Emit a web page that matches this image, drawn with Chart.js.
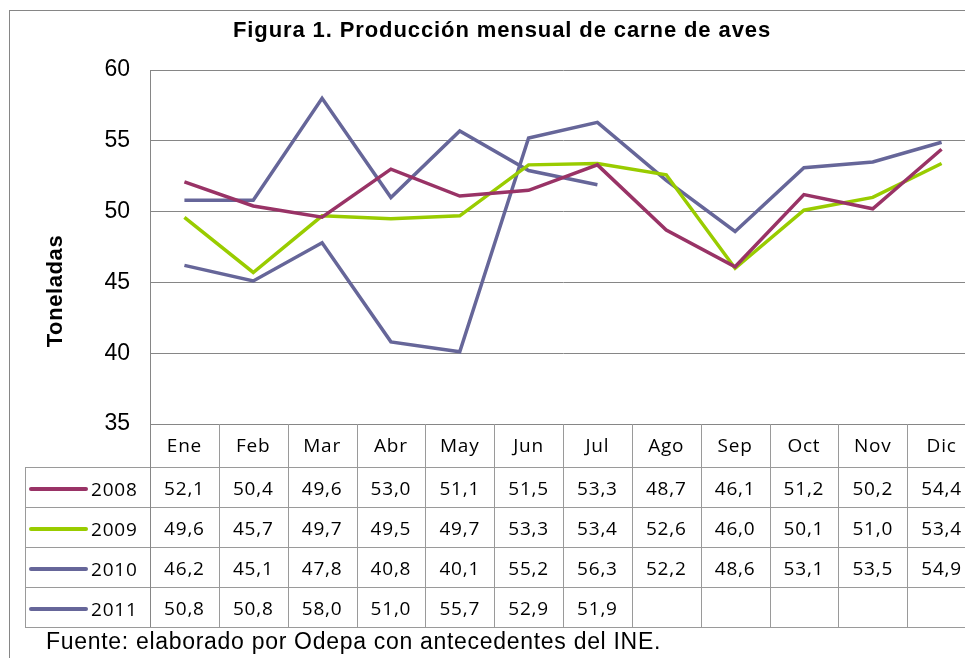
<!DOCTYPE html>
<html>
<head>
<meta charset="utf-8">
<script src="https://cdn.jsdelivr.net/npm/chart.js@4"></script>
<style>
  html, body { margin: 0; padding: 0; background: #fff; overflow: hidden; }
  #wrap { width: 965px; height: 658px; overflow: hidden; position: relative; }
  #chart { position: absolute; left: 0; top: 0; }
</style>
</head>
<body>
<div id="wrap"><canvas id="chart" width="990" height="658"></canvas></div>
<script>
// Datos (toneladas) por mes
const meses = ["Ene", "Feb", "Mar", "Abr", "May", "Jun", "Jul", "Ago", "Sep", "Oct", "Nov", "Dic"];
const anios = ["2008", "2009", "2010", "2011"];
const serie2008 = [52.1, 50.4, 49.6, 53.0, 51.1, 51.5, 53.3, 48.7, 46.1, 51.2, 50.2, 54.4];
const serie2009 = [49.6, 45.7, 49.7, 49.5, 49.7, 53.3, 53.4, 52.6, 46.0, 50.1, 51.0, 53.4];
const serie2010 = [46.2, 45.1, 47.8, 40.8, 40.1, 55.2, 56.3, 52.2, 48.6, 53.1, 53.5, 54.9];
const serie2011 = [50.8, 50.8, 58.0, 51.0, 55.7, 52.9, 51.9, null, null, null, null, null];
const yTicks = [35, 40, 45, 50, 55, 60];

const colores = ["#993366", "#99cc00", "#666699", "#666699"];
const series = [serie2008, serie2009, serie2010, serie2011];

const gridColor = "#868686";
const tableFont = "19px 'Open Sans', sans-serif";

// format 52.1 -> "52,1"
function fmt(v) {
    return v === null ? "" : v.toFixed(1).replace(".", ",");
}

// Draws the frame, title, axis title, data table and footer
const tablaPlugin = {
    id: "tabla",
    afterDraw(chart) {
        const ctx = chart.ctx;
        const area = chart.chartArea;
        const x = chart.scales.x;
        const colW = (area.right - area.left) / meses.length;
        const headTop = area.bottom;
        const headBottom = 467;
        const rowH = 40;
        const tableBottom = headBottom + rowH * anios.length;
        const legendLeft = 25;

        ctx.save();

        // outer frame
        ctx.strokeStyle = gridColor;
        ctx.lineWidth = 1;
        ctx.strokeRect(9.5, 10.5, 1200, 1000);

        // title
        ctx.fillStyle = "#000";
        ctx.font = "bold 22px Arial, 'Liberation Sans', sans-serif";
        ctx.letterSpacing = "0.9px";
        ctx.textAlign = "center";
        ctx.textBaseline = "middle";
        ctx.fillText("Figura 1. Producción mensual de carne de aves", 502, 31);

        // y axis title
        ctx.save();
        ctx.translate(56, 291);
        ctx.rotate(-Math.PI / 2);
        ctx.letterSpacing = "0.6px";
        ctx.fillText("Toneladas", 0, 0);
        ctx.restore();

        // table lines
        ctx.letterSpacing = "0px";
        ctx.strokeStyle = "#9a9a9a";
        ctx.beginPath();
        // vertical lines of month columns
        for (let i = 0; i <= meses.length; i++) {
            const xx = Math.round(area.left + i * colW) + 0.5;
            ctx.moveTo(xx, headTop);
            ctx.lineTo(xx, tableBottom);
        }
        // left edge of legend column
        ctx.moveTo(legendLeft + 0.5, headBottom);
        ctx.lineTo(legendLeft + 0.5, tableBottom);
        // horizontal lines of rows
        for (let r = 0; r <= anios.length; r++) {
            const yy = headBottom + r * rowH + 0.5;
            ctx.moveTo(legendLeft, yy);
            ctx.lineTo(area.right + 20, yy);
        }
        ctx.stroke();

        // y axis line continues down through the table
        ctx.strokeStyle = gridColor;
        ctx.beginPath();
        ctx.moveTo(Math.round(area.left) + 0.5, headTop);
        ctx.lineTo(Math.round(area.left) + 0.5, tableBottom);
        ctx.stroke();

        // month header
        ctx.fillStyle = "#000";
        ctx.font = tableFont;
        ctx.letterSpacing = "0.8px";
        ctx.textAlign = "center";
        ctx.textBaseline = "middle";
        meses.forEach((m, i) => {
            ctx.fillText(m, x.getPixelForValue(i), (headTop + headBottom) / 2 + 1);
        });

        // rows
        anios.forEach((a, r) => {
            const cy = headBottom + r * rowH + rowH / 2;
            // legend key
            ctx.strokeStyle = colores[r];
            ctx.lineWidth = 4;
            ctx.lineCap = "round";
            ctx.beginPath();
            ctx.moveTo(31, cy + 2);
            ctx.lineTo(86, cy + 2);
            ctx.stroke();
            ctx.textAlign = "left";
            ctx.fillText(a, 91, cy + 4);
            ctx.textAlign = "center";
            series[r].forEach((v, i) => {
                ctx.fillText(fmt(v), x.getPixelForValue(i), cy + 3);
            });
        });

        // footer
        ctx.textAlign = "left";
        ctx.font = "23px Arial, 'Liberation Sans', sans-serif";
        ctx.letterSpacing = "0.7px";
        ctx.fillText("Fuente: elaborado por Odepa con antecedentes del INE.", 46, 643);

        ctx.restore();
    }
};

new Chart(document.getElementById("chart"), {
    type: "line",
    data: {
        labels: meses,
        datasets: anios.map((a, i) => ({
            label: a,
            data: series[i],
            borderColor: colores[i],
            backgroundColor: colores[i],
            borderWidth: 3.5,
            pointRadius: 0,
            tension: 0,
            fill: false,
            spanGaps: false
        }))
    },
    options: {
        responsive: false,
        animation: false,
        layout: { padding: { left: 0, top: 70, right: 14, bottom: 234 } },
        plugins: {
            legend: { display: false },
            title: { display: false },
            tooltip: { enabled: false }
        },
        scales: {
            x: { display: false, offset: true },
            y: {
                min: 35,
                max: 60,
                afterBuildTicks: s => { s.ticks = yTicks.map(v => ({ value: v })); },
                afterFit: s => { s.width = 150; },
                ticks: {
                    color: "#000",
                    padding: 20,
                    font: { family: "Arial, 'Liberation Sans', sans-serif", size: 23 }
                },
                grid: { color: gridColor, drawTicks: false },
                border: { color: gridColor }
            }
        }
    },
    plugins: [tablaPlugin]
});
</script>
</body>
</html>
